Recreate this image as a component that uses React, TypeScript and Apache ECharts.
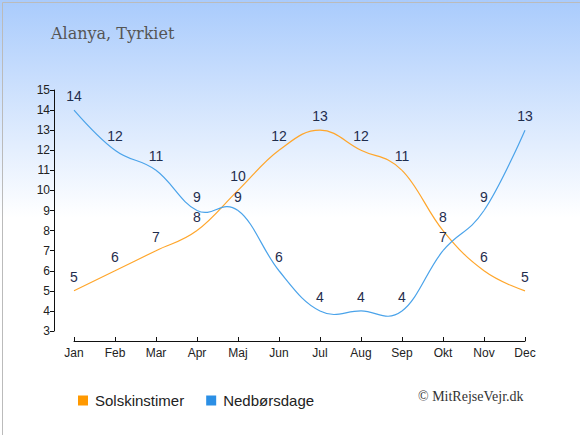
import React, { useEffect, useRef } from "react";
import * as echarts from "echarts";

const months = ["Jan", "Feb", "Mar", "Apr", "Maj", "Jun", "Jul", "Aug", "Sep", "Okt", "Nov", "Dec"];
const sunHours = [5, 6, 7, 8, 10, 12, 13, 12, 11, 8, 6, 5];
const rainDays = [14, 12, 11, 9, 9, 6, 4, 4, 4, 7, 9, 13];
const yTicks = { min: 3, max: 15, interval: 1 };

const SUN_NAME = "Solskinstimer";
const RAIN_NAME = "Nedbørsdage";

function splineRenderer(values: number[], color: string) {
  return (params: any, api: any) => {
    const i = params.dataIndex;
    if (i === 0) return null;
    const n = values.length;
    const p = (k: number) => api.coord([k, values[k]]);
    const ctrl = (k: number, dir: number) => {
      const pt = p(k);
      if (k === 0 || k === n - 1) return pt;
      const a = p(k - 1);
      const b = p(k + 1);
      return [pt[0] + dir * (b[0] - a[0]) * 0.2, pt[1] + dir * (b[1] - a[1]) * 0.2];
    };
    const p0 = p(i - 1);
    const p1 = p(i);
    const c0 = ctrl(i - 1, 1);
    const c1 = ctrl(i, -1);
    const d = `M${p0[0]},${p0[1]} C${c0[0]},${c0[1]} ${c1[0]},${c1[1]} ${p1[0]},${p1[1]}`;
    return {
      type: "path",
      shape: { pathData: d },
      style: { fill: "none", stroke: color, lineWidth: 1.2 },
      silent: true,
    };
  };
}

export default function App() {
  const ref = useRef<HTMLDivElement>(null);
  useEffect(() => {
    const chart = echarts.init(ref.current!, null, { renderer: "svg" });
    const labelStyle = {
      show: true, position: "top", distance: 6, color: "#1f2d4d", fontSize: 14,
      fontFamily: "Arial, Liberation Sans, sans-serif",
    };
    const labelSeries = (name: string, values: number[]) => ({
      name, type: "line", data: values,
      symbol: "circle", symbolSize: 2, showSymbol: true,
      lineStyle: { width: 0, opacity: 0 },
      itemStyle: { color: "rgba(0,0,0,0)" },
      label: labelStyle,
      silent: true,
      z: 5,
    });
    const curveSeries = (name: string, values: number[], color: string) => ({
      name, type: "custom",
      data: values.map((v, i) => [i, v]),
      encode: { x: 0, y: 1 },
      renderItem: splineRenderer(values, color),
      clip: false,
      z: 3,
    });
    chart.setOption({
      animation: false,
      backgroundColor: {
        type: "linear", x: 0, y: 0, x2: 0, y2: 1,
        colorStops: [
          { offset: 0, color: "#a9cbfc" },
          { offset: 0.5, color: "#ffffff" },
          { offset: 1, color: "#ffffff" },
        ],
      },
      title: {
        text: "Alanya, Tyrkiet",
        left: 46, top: 20,
        textStyle: { fontFamily: "DejaVu Serif, serif", fontSize: 16, fontWeight: "normal", color: "#555" },
      },
      legend: {
        left: 73, top: 388,
        itemWidth: 10, itemHeight: 10, itemGap: 22,
        icon: "rect",
        textStyle: { fontSize: 15, color: "#222", fontFamily: "Arial, Liberation Sans, sans-serif", padding: [0, 0, 0, 2] },
        data: [
          { name: SUN_NAME, itemStyle: { color: "#ff9900", opacity: 1 } },
          { name: RAIN_NAME, itemStyle: { color: "#2b8fe5", opacity: 1 } },
        ],
      },
      graphic: [
        {
          type: "text", left: 418, top: 389,
          style: { text: "© MitRejseVejr.dk", font: "14px 'Liberation Serif', serif", fill: "#333" },
        },
        {
          type: "rect", left: 0, top: 0, shape: { width: 579, height: 434 },
          style: { fill: "none", stroke: "#bbbbbb", lineWidth: 1 }, silent: true,
        },
      ],
      grid: { left: 74, right: 55, top: 90, bottom: 104 },
      xAxis: {
        type: "category",
        data: months,
        boundaryGap: false,
        offset: 10,
        axisLine: { lineStyle: { color: "#111", width: 1 } },
        axisTick: { show: true, length: 4, inside: true, alignWithLabel: true, lineStyle: { color: "#111" } },
        axisLabel: { color: "#222", fontSize: 12, margin: 6, fontFamily: "Arial, Liberation Sans, sans-serif" },
        splitLine: { show: false },
      },
      yAxis: {
        type: "value",
        min: yTicks.min, max: yTicks.max, interval: yTicks.interval,
        offset: 20,
        axisLine: { show: true, lineStyle: { color: "#111", width: 1 } },
        axisTick: { show: true, length: 4, lineStyle: { color: "#111" } },
        axisLabel: { color: "#222", fontSize: 12, margin: 4, fontFamily: "Arial, Liberation Sans, sans-serif" },
        splitLine: { show: false },
      },
      series: [
        curveSeries(SUN_NAME, sunHours, "#ffa62b"),
        curveSeries(RAIN_NAME, rainDays, "#4aa3ea"),
        labelSeries(SUN_NAME, sunHours),
        labelSeries(RAIN_NAME, rainDays),
      ],
    });
    return () => chart.dispose();
  }, []);
  return <div ref={ref} style={{ position: "absolute", left: 0, top: 0, width: 580, height: 435 }} />;
}
